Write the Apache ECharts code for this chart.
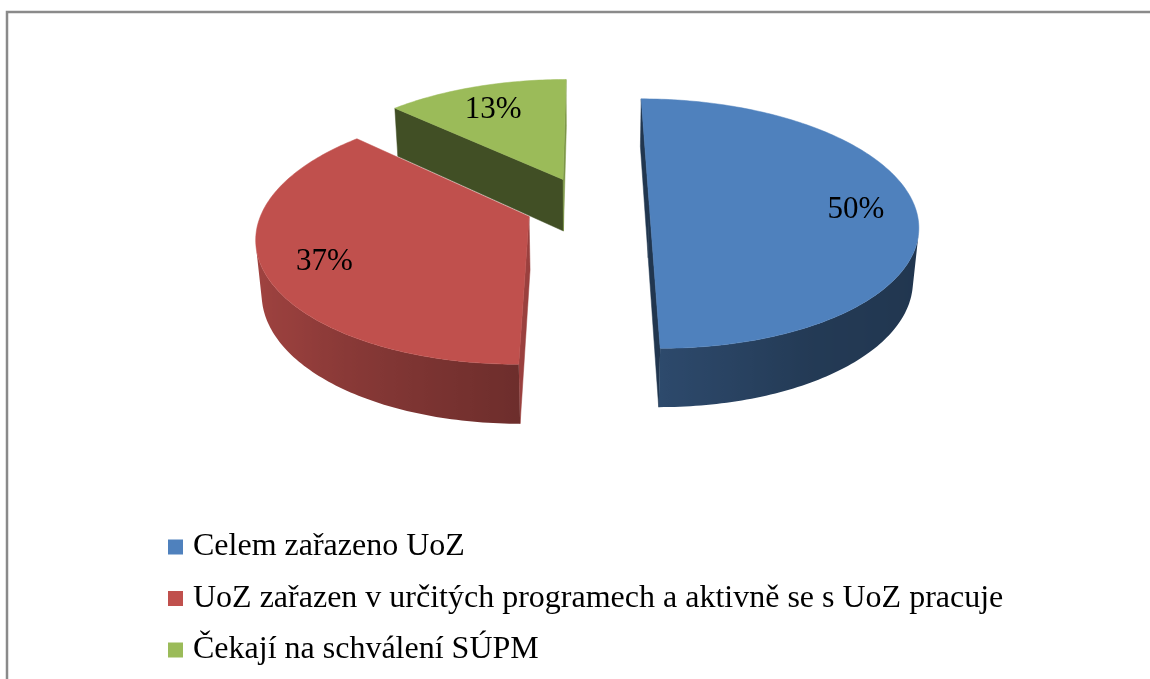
<!DOCTYPE html>
<html>
<head>
<meta charset="utf-8">
<script src="https://cdn.jsdelivr.net/npm/echarts/dist/echarts.min.js"></script>
<style>
  html, body { margin: 0; padding: 0; background: #ffffff; }
  #chart { width: 1150px; height: 679px; }
</style>
</head>
<body>
<div id="chart"></div>
<script>
// Categories and their shares (percent)
const categories = [
  'Celem zařazeno UoZ',
  'UoZ zařazen v určitých programech a aktivně se s UoZ pracuje',
  'Čekají na schválení SÚPM'
];
const shares = [50, 37, 13];
const sliceColors = ['#4F81BD', '#C0504D', '#9BBB59'];

// Geometry of the tilted, exploded 3D pie (world units: radius = 1)
const VIEW = {
  cx: 587, cy: 205,        // screen position of the pie centre
  scale: 265,              // pixels per unit radius
  dist: 5.96,              // camera distance
  tilt: 27.4 * Math.PI / 180,
  thick: 0.228,            // slab thickness
  explode: 0.235,          // outward offset of each slice
  labelR: 0.78,            // label distance from slice centre
  labelDy: 5               // labels sit slightly below the radius point
};
const sinT = Math.sin(VIEW.tilt), cosT = Math.cos(VIEW.tilt);
const CAM = [0, VIEW.dist * sinT, VIEW.dist * cosT];

function project(X, Y, Z) {
  const depth = VIEW.dist - (Z * cosT + Y * sinT);
  const k = VIEW.dist / depth;
  const up = Y * cosT - Z * sinT;
  return [VIEW.cx + VIEW.scale * X * k, VIEW.cy - VIEW.scale * up * k];
}
const rad = d => d * Math.PI / 180;
// angle measured clockwise from the back (12 o'clock)
const dirX = a => Math.sin(rad(a));
const dirZ = a => -Math.cos(rad(a));

function shade(hex, f) {
  const n = parseInt(hex.slice(1), 16);
  const r = Math.round(((n >> 16) & 255) * f);
  const g = Math.round(((n >> 8) & 255) * f);
  const b = Math.round((n & 255) * f);
  return 'rgb(' + r + ',' + g + ',' + b + ')';
}
// brightness of the outer wall by facing direction
const WALL_SHADE = [[0, 0.38], [90, 0.40], [150, 0.45], [180, 0.57], [230, 0.78], [270, 0.88], [360, 0.88]];
function wallFactor(a) {
  a = ((a % 360) + 360) % 360;
  for (let i = 1; i < WALL_SHADE.length; i++) {
    const p = WALL_SHADE[i - 1], q = WALL_SHADE[i];
    if (a <= q[0]) return p[1] + (q[1] - p[1]) * (a - p[0]) / (q[0] - p[0]);
  }
  return 0.88;
}
// radial cut faces: left-facing ones are in shadow
const radialFactor = n => (n[0] > 0.5 ? 0.8 : 0.42);

const total = shares.reduce((s, v) => s + v, 0);
const slices = [];
let acc = 0;
shares.forEach((v, i) => {
  const a0 = acc / total * 360;
  acc += v;
  const a1 = acc / total * 360;
  const mid = (a0 + a1) / 2;
  slices.push({
    a0, a1, mid,
    ox: dirX(mid) * VIEW.explode,
    oz: dirZ(mid) * VIEW.explode,
    pct: Math.round(v / total * 100)
  });
});

function facing(n, p) {
  return n[0] * (CAM[0] - p[0]) + n[1] * (CAM[1] - p[1]) + n[2] * (CAM[2] - p[2]) > 0;
}

function buildSlice(i) {
  const s = slices[i];
  const color = sliceColors[i];
  const T = VIEW.thick;
  const children = [];
  const edge = (a, Y) => project(s.ox + dirX(a), Y, s.oz + dirZ(a));
  const centre = Y => project(s.ox, Y, s.oz);

  // radial walls
  const walls = [
    { a: s.a0, n: [-Math.cos(rad(s.a0)), 0, -Math.sin(rad(s.a0))] },
    { a: s.a1, n: [Math.cos(rad(s.a1)), 0, Math.sin(rad(s.a1))] }
  ];
  walls.forEach(w => {
    if (facing(w.n, [s.ox, -T / 2, s.oz])) {
      const c = shade(color, radialFactor(w.n));
      children.push({
        type: 'polygon',
        shape: { points: [centre(0), edge(w.a, 0), edge(w.a, -T), centre(-T)] },
        style: { fill: c, stroke: c, lineWidth: 0.5 }
      });
    }
  });

  // outer curved wall, split into visible runs
  const steps = Math.max(4, Math.ceil(s.a1 - s.a0));
  const da = (s.a1 - s.a0) / steps;
  let run = null;
  const runs = [];
  for (let k = 0; k < steps; k++) {
    const m = s.a0 + (k + 0.5) * da;
    const n = [dirX(m), 0, dirZ(m)];
    const vis = facing(n, [s.ox + n[0], -T / 2, s.oz + n[2]]);
    if (vis) {
      if (!run) { run = [s.a0 + k * da]; runs.push(run); }
      run.push(s.a0 + (k + 1) * da);
    } else run = null;
  }
  runs.forEach(r => {
    const top = r.map(a => edge(a, 0));
    const bot = r.map(a => edge(a, -T)).reverse();
    const pts = top.concat(bot);
    let xmin = Infinity, xmax = -Infinity;
    pts.forEach(p => { xmin = Math.min(xmin, p[0]); xmax = Math.max(xmax, p[0]); });
    const span = Math.max(1e-6, xmax - xmin);
    const stops = r.map((a, j) => ({
      offset: Math.min(1, Math.max(0, (top[j][0] - xmin) / span)),
      color: shade(color, wallFactor(a))
    })).sort((p, q) => p.offset - q.offset);
    children.push({
      type: 'polygon',
      shape: { points: pts },
      style: {
        fill: { type: 'linear', x: 0, y: 0, x2: 1, y2: 0, colorStops: stops }
      }
    });
  });

  // top face
  const topPts = [centre(0)];
  for (let k = 0; k <= steps; k++) topPts.push(edge(s.a0 + k * da, 0));
  children.push({
    type: 'polygon',
    shape: { points: topPts },
    style: { fill: color, stroke: color, lineWidth: 0.5 }
  });

  // value label on the top face
  const lr = VIEW.labelR;
  const lp = project(s.ox + dirX(s.mid) * lr, 0, s.oz + dirZ(s.mid) * lr);
  children.push({
    type: 'text',
    style: {
      text: s.pct + '%',
      x: lp[0], y: lp[1] + VIEW.labelDy,
      align: 'center', verticalAlign: 'middle',
      font: '31px "Liberation Serif", "Times New Roman", serif',
      fill: '#000000'
    }
  });
  return { type: 'group', children };
}

// back slices are painted first
const order = slices.map((s, i) => i).sort((p, q) => slices[p].oz - slices[q].oz);
const zOf = {};
order.forEach((idx, rank) => { zOf[idx] = 2 + rank; });

const series = categories.map((name, i) => ({
  type: 'custom',
  name: name,
  coordinateSystem: 'none',
  z: zOf[i],
  data: [shares[i]],
  itemStyle: { color: sliceColors[i] },
  renderItem: () => buildSlice(i)
}));

const chart = echarts.init(document.getElementById('chart'), null, { renderer: 'canvas' });
chart.setOption({
  animation: false,
  backgroundColor: '#ffffff',
  color: sliceColors,
  graphic: [{
    type: 'rect',
    shape: { x: 7, y: 12, width: 1200, height: 720 },
    style: { fill: 'none', stroke: '#8a8a8a', lineWidth: 2.5 },
    z: 0
  }],
  legend: {
    orient: 'vertical',
    left: 168,
    top: 530,
    padding: 0,
    icon: 'rect',
    itemWidth: 15,
    itemHeight: 15,
    itemGap: 17.5,
    selectedMode: false,
    textStyle: {
      fontFamily: '"Liberation Serif", "Times New Roman", serif',
      fontSize: 32,
      lineHeight: 34,
      color: '#000000',
      padding: [0, 0, 0, 5]
    },
    data: categories
  },
  series: series
});
</script>
</body>
</html>
